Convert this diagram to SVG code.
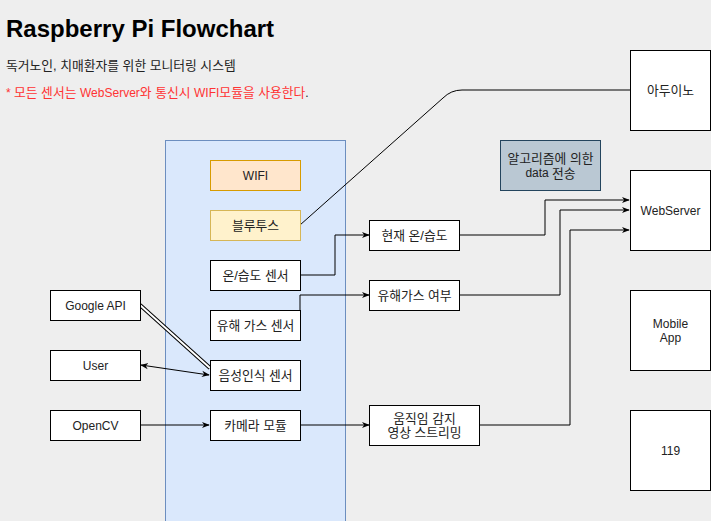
<svg xmlns="http://www.w3.org/2000/svg" width="711" height="521" viewBox="0 0 711 521">
<defs>
<style>
text{font-family:"Liberation Sans","Noto Sans CJK KR",Arial,sans-serif;font-size:12px;fill:#222}
.k,tspan.k{font-size:12.8px}
.c{text-anchor:middle;dominant-baseline:central}
.box{fill:#fff;stroke:#000;stroke-width:1}
.ln{fill:none;stroke:#000;stroke-width:1}
</style>
<marker id="ar" viewBox="0 0 10 10" refX="9" refY="5" markerWidth="8" markerHeight="8" orient="auto-start-reverse" markerUnits="userSpaceOnUse">
<path d="M0,1 L10,5 L0,9 L3,5 Z" fill="#000"/>
</marker>
</defs>
<rect width="711" height="521" fill="#eeeeee"/>
<g id="title">
<text x="6" y="37" style="font-size:24px;font-weight:bold;fill:#000">Raspberry Pi Flowchart</text>
<text class="k" x="6" y="70">독거노인, 치매환자를 위한 모니터링 시스템</text>
<text x="6" y="97" style="fill:#ff3333">* <tspan class="k">모든 센서는 </tspan>WebServer<tspan class="k">와 통신시 </tspan>WIFI<tspan class="k">모듈을 사용한다</tspan><tspan style="fill:#222">.</tspan></text>
</g>
<g id="raspberry-pi">
<rect x="165.5" y="140.5" width="180" height="390" fill="#dae8fc" stroke="#6c8ebf"/>
</g>
<g id="connectors">
<path class="ln" d="M300,225 L443,98 Q451,90 462,90 L630,90"/>
<path class="ln" d="M300,275 L335,275 L335,235 L369,235" marker-end="url(#ar)"/>
<path class="ln" d="M300,310 L300,295 L369,295" marker-end="url(#ar)"/>
<path class="ln" d="M460,235 L545,235 L545,200 L629,200" marker-end="url(#ar)"/>
<path class="ln" d="M460,295 L560,295 L560,210 L629,210" marker-end="url(#ar)"/>
<path class="ln" d="M480,425 L570,425 L570,230 L629,230" marker-end="url(#ar)"/>
<path class="ln" d="M300,425 L369,425" marker-end="url(#ar)"/>
<path class="ln" d="M140,425 L209,425" marker-end="url(#ar)"/>
<path class="ln" d="M141,365 L209,375" marker-start="url(#ar)" marker-end="url(#ar)"/>
<path d="M140,305 L210,368" fill="none" stroke="#000" stroke-width="4"/>
<path d="M140,305 L210,368" fill="none" stroke="#fff" stroke-width="2"/>
</g>
<g id="wifi"><rect x="210.5" y="160.5" width="90" height="30" fill="#ffe6cc" stroke="#d79b00"/><text class="c" x="255.5" y="175.5">WIFI</text></g>
<g id="bluetooth"><rect x="210.5" y="210.5" width="90" height="30" fill="#fff2cc" stroke="#d6b656"/><text class="c k" x="255.5" y="225.5">블루투스</text></g>
<g id="temp-sensor"><rect class="box" x="210.5" y="260.5" width="90" height="30"/><text class="c k" x="255.5" y="275.5">온/습도 센서</text></g>
<g id="gas-sensor"><rect class="box" x="210.5" y="310.5" width="90" height="30"/><text class="c k" x="255.5" y="325.5">유해 가스 센서</text></g>
<g id="voice-sensor"><rect class="box" x="210.5" y="360.5" width="90" height="30"/><text class="c k" x="255.5" y="375.5">음성인식 센서</text></g>
<g id="camera"><rect class="box" x="210.5" y="410.5" width="90" height="30"/><text class="c k" x="255.5" y="425.5">카메라 모듈</text></g>
<g id="google-api"><rect class="box" x="50.5" y="290.5" width="90" height="30"/><text class="c" x="95.5" y="305.5">Google API</text></g>
<g id="user"><rect class="box" x="50.5" y="350.5" width="90" height="30"/><text class="c" x="95.5" y="365.5">User</text></g>
<g id="opencv"><rect class="box" x="50.5" y="410.5" width="90" height="30"/><text class="c" x="95.5" y="425.5">OpenCV</text></g>
<g id="current-temp"><rect class="box" x="369.5" y="220.5" width="90" height="30"/><text class="c k" x="414.5" y="235.5">현재 온/습도</text></g>
<g id="gas-status"><rect class="box" x="369.5" y="280.5" width="90" height="30"/><text class="c k" x="414.5" y="295.5">유해가스 여부</text></g>
<g id="streaming"><rect class="box" x="369.5" y="405.5" width="110" height="40"/><text class="c k" x="424.5" y="418.5">움직임 감지</text><text class="c k" x="424.5" y="432.5">영상 스트리밍</text></g>
<g id="algorithm"><rect x="500.5" y="140.5" width="100" height="50" fill="#bac8d3" stroke="#23445d"/><text class="c k" x="550.5" y="158.5">알고리즘에 의한</text><text class="c" x="550.5" y="172.5">data <tspan class="k">전송</tspan></text></g>
<g id="arduino"><rect class="box" x="630.5" y="50.5" width="80" height="80"/><text class="c k" x="670.5" y="90.5">아두이노</text></g>
<g id="webserver"><rect class="box" x="630.5" y="170.5" width="80" height="80"/><text class="c" x="670.5" y="210.5">WebServer</text></g>
<g id="mobile-app"><rect class="box" x="630.5" y="290.5" width="80" height="80"/><text class="c" x="670.5" y="323.5">Mobile</text><text class="c" x="670.5" y="337.5">App</text></g>
<g id="n119"><rect class="box" x="630.5" y="410.5" width="80" height="80"/><text class="c" x="670.5" y="450.5">119</text></g>
</svg>
